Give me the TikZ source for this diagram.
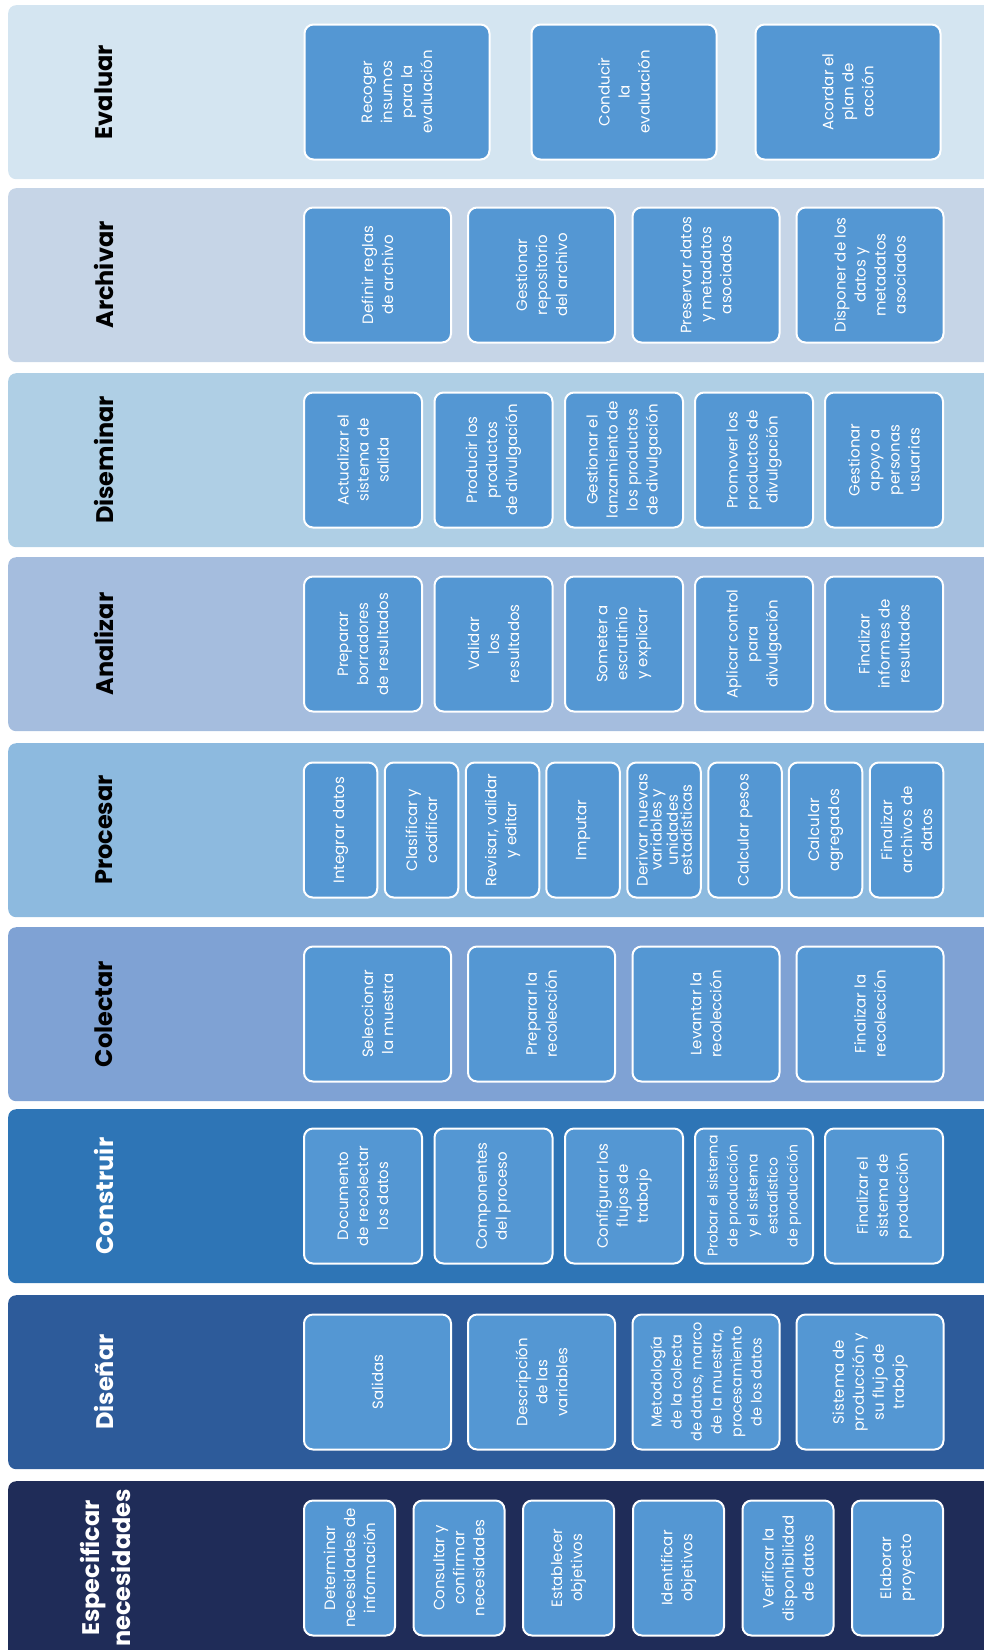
\documentclass[tikz,border=0pt]{standalone}
\usepackage{fontspec}
\setmainfont{Poppins}
\usetikzlibrary{positioning}
\definecolor{evalbg}{RGB}{212, 229, 241}
\definecolor{archbg}{RGB}{198, 213, 231}
\definecolor{disebg}{RGB}{175, 207, 229}
\definecolor{analbg}{RGB}{165, 189, 222}
\definecolor{procbg}{RGB}{141, 186, 223}
\definecolor{colebg}{RGB}{127, 162, 212}
\definecolor{consbg}{RGB}{46, 117, 182}
\definecolor{disnbg}{RGB}{45, 91, 154}
\definecolor{espebg}{RGB}{31, 44, 88}
\definecolor{boxblue}{RGB}{84, 151, 211}

\begin{document}
\begin{tikzpicture}[x=1pt, y=1pt,
  band/.style={fill=#1, rounded corners=8pt, minimum width=1000pt, minimum height=174pt, anchor=north west, inner sep=0pt},
  ttl/.style={rotate=90, align=center, font=\bfseries\fontsize{24}{31}\selectfont},
  pbox/.style={draw=white, line width=2pt, fill=boxblue, rounded corners=9pt, rotate=90, minimum width=135pt, minimum height=#1, inner sep=1pt, align=center, text=white, font=\fontsize{15}{20}\selectfont}
]
  \useasboundingbox (0,0) rectangle (984,-1650);
  \clip (0,0) rectangle (984,-1650);

  % bands
  \node[band=evalbg] (evalband) at (8,-5) {};
  \node[band=archbg] (archband) at (8,-188) {};
  \node[band=disebg] (diseband) at (8,-373) {};
  \node[band=analbg] (analband) at (8,-557) {};
  \node[band=procbg] (procband) at (8,-743) {};
  \node[band=colebg] (coleband) at (8,-927) {};
  \node[band=consbg] (consband) at (8,-1109) {};
  \node[band=disnbg] (disnband) at (8,-1295) {};
  \node[band=espebg, minimum height=200pt] (espeband) at (8,-1481) {};

  % titles
  \node[ttl] (evalttl) at (104,-92) {Evaluar};
  \node[ttl] (archttl) at (104,-275) {Archivar};
  \node[ttl] (disettl) at (104,-460) {Diseminar};
  \node[ttl] (analttl) at (104,-644) {Analizar};
  \node[ttl] (procttl) at (104,-830) {Procesar};
  \node[ttl] (colettl) at (104,-1014) {Colectar};
  \node[ttl, text=white] (consttl) at (104,-1196) {Construir};
  \node[ttl, text=white] (disnttl) at (104,-1382) {Diseñar};
  \node[ttl, text=white] (espettl) at (105,-1568) {Especificar\\necesidades};

  % Evaluar
  \node[pbox=185pt] (eval1) at (397,-92) {Recoger\\insumos\\para la\\evaluación};
  \node[pbox=185pt] (eval2) at (624,-92) {Conducir\\la\\evaluación};
  \node[pbox=185pt] (eval3) at (848,-92) {Acordar el\\plan de\\acción};

  % Archivar
  \node[pbox=147pt] (arch1) at (377.5,-275) {Definir reglas\\de archivo};
  \node[pbox=147pt] (arch2) at (541.5,-275) {Gestionar\\repositorio\\del archivo};
  \node[pbox=147pt] (arch3) at (706,-275) {Preservar datos\\y metadatos\\asociados};
  \node[pbox=147pt] (arch4) at (870,-275) {Disponer de los\\datos y\\metadatos\\asociados};

  % Diseminar
  \node[pbox=118pt] (dise1) at (363,-460) {Actualizar el\\sistema de\\salida};
  \node[pbox=118pt] (dise2) at (493.5,-460) {Producir los\\productos\\de divulgación};
  \node[pbox=118pt] (dise3) at (624,-460) {Gestionar el\\lanzamiento de\\los productos\\de divulgación};
  \node[pbox=118pt] (dise4) at (754,-460) {Promover los\\productos de\\divulgación};
  \node[pbox=118pt] (dise5) at (884,-460) {Gestionar\\apoyo a\\personas\\usuarias};

  % Analizar
  \node[pbox=118pt] (anal1) at (363,-644) {Preparar\\borradores\\de resultados};
  \node[pbox=118pt] (anal2) at (493.5,-644) {Validar\\los\\resultados};
  \node[pbox=118pt] (anal3) at (624,-644) {Someter a\\escrutinio\\y explicar};
  \node[pbox=118pt] (anal4) at (754,-644) {Aplicar control\\para\\divulgación};
  \node[pbox=118pt] (anal5) at (884,-644) {Finalizar\\informes de\\resultados};

  % Procesar
  \node[pbox=73.5pt] (proc1) at (340.5,-830) {Integrar datos};
  \node[pbox=73.5pt] (proc2) at (421.5,-830) {Clasificar y\\codificar};
  \node[pbox=73.5pt] (proc3) at (502.5,-830) {Revisar, validar\\y editar};
  \node[pbox=73.5pt] (proc4) at (583,-830) {Imputar};
  \node[pbox=73.5pt, font=\fontsize{15}{14}\selectfont] (proc5) at (664,-830) {Derivar nuevas\\variables y\\unidades\\estadísticas};
  \node[pbox=73.5pt] (proc6) at (745,-830) {Calcular pesos};
  \node[pbox=73.5pt] (proc7) at (825.5,-830) {Calcular\\agregados};
  \node[pbox=73.5pt] (proc8) at (906.5,-830) {Finalizar\\archivos de\\datos};

  % Colectar
  \node[pbox=147pt] (cole1) at (377.5,-1014) {Seleccionar\\la muestra};
  \node[pbox=147pt] (cole2) at (541.5,-1014) {Preparar la\\recolección};
  \node[pbox=147pt] (cole3) at (706,-1014) {Levantar la\\recolección};
  \node[pbox=147pt] (cole4) at (870,-1014) {Finalizar la\\recolección};

  % Construir
  \node[pbox=118pt] (cons1) at (363,-1196) {Documento\\de recolectar\\los datos};
  \node[pbox=118pt] (cons2) at (493.5,-1196) {Componentes\\del proceso};
  \node[pbox=118pt] (cons3) at (624,-1196) {Configurar los\\flujos de\\trabajo};
  \node[pbox=118pt, font=\fontsize{14}{20}\selectfont] (cons4) at (754,-1196) {Probar el sistema\\de producción\\y el sistema\\estadístico\\de producción};
  \node[pbox=118pt] (cons5) at (884,-1196) {Finalizar el\\sistema de\\producción};

  % Diseñar
  \node[pbox=147pt] (disn1) at (377.5,-1382) {Salidas};
  \node[pbox=147pt] (disn2) at (541.5,-1382) {Descripción\\de las\\variables};
  \node[pbox=147pt, font=\fontsize{14.5}{20}\selectfont] (disn3) at (706,-1382) {Metodología\\de la colecta\\de datos, marco\\de la muestra,\\procesamiento\\de los datos};
  \node[pbox=147pt] (disn4) at (870,-1382) {Sistema de\\producción y\\su flujo de\\trabajo};

  % Especificar necesidades
  \node[pbox=91pt] (espe1) at (349.5,-1568) {Determinar\\necesidades de\\información};
  \node[pbox=91pt] (espe2) at (459,-1568) {Consultar y\\confirmar\\necesidades};
  \node[pbox=91pt] (espe3) at (568.5,-1568) {Establecer\\objetivos};
  \node[pbox=91pt] (espe4) at (678.5,-1568) {Identificar\\objetivos};
  \node[pbox=91pt] (espe5) at (788,-1568) {Verificar la\\disponibilidad\\de datos};
  \node[pbox=91pt] (espe6) at (897.5,-1568) {Elaborar\\proyecto};
\end{tikzpicture}
\end{document}
